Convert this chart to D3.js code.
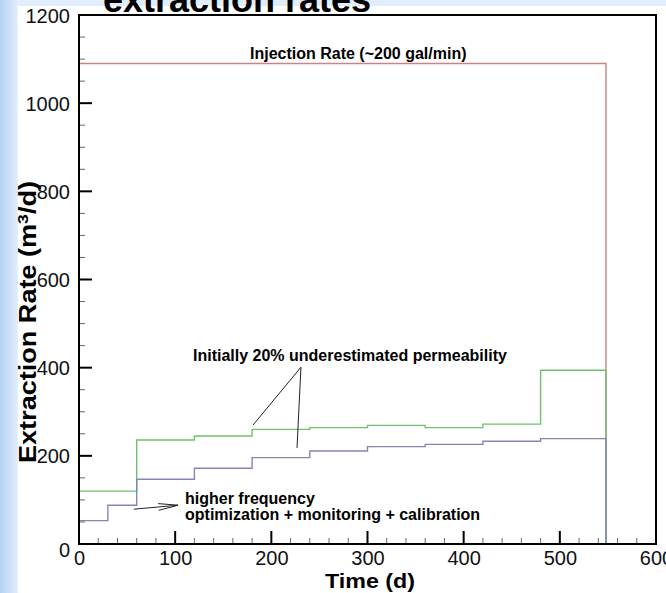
<!DOCTYPE html>
<html><head><meta charset="utf-8">
<script src="https://cdn.jsdelivr.net/npm/d3@7"></script>
<style>
html,body{margin:0;padding:0;background:#fff;}
svg{display:block;}
text{font-family:"Liberation Sans",Arial,sans-serif;}
</style></head>
<body>
<svg id="chart" width="666" height="593"></svg>
<script>
// ---- data ----
const endTime = 548;
const injectionTimes = [0];
const injectionValues = [1090];
const underestTimes = [0, 60, 120, 180, 240, 300, 360, 420, 480];
const underestValues = [120, 236, 245, 260, 264, 269, 264, 272, 394];
const hiFreqTimes = [0, 30, 60, 120, 180, 240, 300, 360, 420, 480];
const hiFreqValues = [53, 88, 147, 172, 196, 211, 221, 226, 233, 239];
const xTicks = [0, 100, 200, 300, 400, 500, 600];
const yTicks = [0, 200, 400, 600, 800, 1000, 1200];

(function(){
const svg = d3.select("#chart");
const W = 666, H = 593;
const pL = 79, pR = 656, pT = 15, pB = 544;

// background
const defs = svg.append("defs");
const g1 = defs.append("linearGradient").attr("id","lg").attr("x1","0").attr("x2","1").attr("y1","0").attr("y2","0");
g1.append("stop").attr("offset","0%").attr("stop-color","#b4d1f4");
g1.append("stop").attr("offset","100%").attr("stop-color","#e4eefb");
svg.append("rect").attr("width",W).attr("height",H).attr("fill","#e2edfb");
svg.append("rect").attr("x",0).attr("y",0).attr("width",18).attr("height",H).attr("fill","url(#lg)");
svg.append("rect").attr("x",18).attr("y",6).attr("width",W-18).attr("height",H-6).attr("fill","#ffffff");

const x = d3.scaleLinear().domain([0,600]).range([pL,pR]);
const y = d3.scaleLinear().domain([0,1200]).range([pB,pT]);

// series
function stepPts(ts, vs){
  const pts = ts.map((t,i)=>[t, vs[i]]);
  pts.push([endTime, 0]);
  return pts;
}
const line = d3.line().x(d=>x(d[0])).y(d=>y(d[1])).curve(d3.curveStepAfter);
const series = [
  {pts: stepPts(injectionTimes, injectionValues), color:"#c98585"},
  {pts: stepPts(underestTimes, underestValues), color:"#6fc16f"},
  {pts: stepPts(hiFreqTimes, hiFreqValues), color:"#8585b8"}
];
svg.selectAll("path.s").data(series).enter().append("path")
  .attr("class","s").attr("d",d=>line(d.pts)).attr("fill","none")
  .attr("stroke",d=>d.color).attr("stroke-width",1.4);

// axes
const fmt = d3.format("d");
const xAxis = d3.axisBottom(x).tickValues(xTicks).tickFormat(fmt).tickSize(0).tickPadding(0);
const gx = svg.append("g").attr("transform",`translate(0,${pB})`).call(xAxis);
gx.select(".domain").remove();
gx.selectAll("text").attr("font-size",20).attr("fill","#111").attr("dy",null).attr("y",21);

const yAxis = d3.axisLeft(y).tickValues(yTicks).tickFormat(fmt).tickSize(0).tickPadding(0);
const gy = svg.append("g").attr("transform",`translate(${pL},0)`).call(yAxis);
gy.select(".domain").remove();
gy.selectAll("text").attr("font-size",20).attr("fill","#111").attr("x",-9)
  .attr("dy",d=> d===0 ? "0.62em" : "0.35em");

// minor + major ticks (inside)
const xMinor = d3.range(0,601,20).filter(v=>v%100!==0);
const yMinor = d3.range(0,1201,50).filter(v=>v%200!==0);
svg.append("g").selectAll("line").data(xMinor).enter().append("line")
  .attr("x1",d=>x(d)).attr("x2",d=>x(d)).attr("y1",pB).attr("y2",pB-6)
  .attr("stroke","#666").attr("stroke-width",1);
svg.append("g").selectAll("line").data(yMinor).enter().append("line")
  .attr("y1",d=>y(d)).attr("y2",d=>y(d)).attr("x1",pL).attr("x2",pL+6)
  .attr("stroke","#666").attr("stroke-width",1);
svg.append("g").selectAll("line").data(xTicks).enter().append("line")
  .attr("x1",d=>x(d)).attr("x2",d=>x(d)).attr("y1",pB).attr("y2",pB-13)
  .attr("stroke","#000").attr("stroke-width",2);
svg.append("g").selectAll("line").data(yTicks).enter().append("line")
  .attr("y1",d=>y(d)).attr("y2",d=>y(d)).attr("x1",pL).attr("x2",pL+13)
  .attr("stroke","#000").attr("stroke-width",2);

// frame
svg.append("rect").attr("x",pL).attr("y",pT).attr("width",pR-pL).attr("height",pB-pT)
  .attr("fill","none").attr("stroke","#000").attr("stroke-width",2);

// axis titles
svg.append("text").attr("x",370).attr("y",588).attr("text-anchor","middle")
  .attr("font-size",21).attr("font-weight","bold")
  .attr("textLength",90).attr("lengthAdjust","spacingAndGlyphs").text("Time (d)");
const yl = svg.append("text").attr("transform","translate(36,322) rotate(-90)")
  .attr("text-anchor","middle").attr("font-size",23).attr("font-weight","bold")
  .attr("textLength",282).attr("lengthAdjust","spacingAndGlyphs");
yl.append("tspan").text("Extraction Rate (m");
yl.append("tspan").attr("font-size",15).attr("baseline-shift","super").text("3");
yl.append("tspan").text("/d)");

// title (cut off at top)
svg.append("text").attr("x",103).attr("y",12).attr("font-size",36).attr("font-weight","bold")
  .attr("fill","#000").text("extraction rates");

// annotations
svg.append("text").attr("x",250).attr("y",59).attr("font-size",16).attr("font-weight","bold")
  .text("Injection Rate (~200 gal/min)");
svg.append("text").attr("x",193).attr("y",361).attr("font-size",16).attr("font-weight","bold")
  .text("Initially 20% underestimated permeability");
svg.append("text").attr("x",185).attr("y",504).attr("font-size",16).attr("font-weight","bold")
  .text("higher frequency");
svg.append("text").attr("x",185).attr("y",520).attr("font-size",16).attr("font-weight","bold")
  .text("optimization + monitoring + calibration");

const pointerFrom = [230.8, 401];
const pointerTo = [[181, 270], [226.7, 218]];
svg.append("g").selectAll("line").data(pointerTo).enter().append("line")
  .attr("x1",x(pointerFrom[0])).attr("y1",y(pointerFrom[1]))
  .attr("x2",d=>x(d[0])).attr("y2",d=>y(d[1]))
  .attr("stroke","#222").attr("stroke-width",1);

const arrowFrom = [57, 79], arrowTo = [103, 88];
const ax1 = x(arrowFrom[0]), ay1 = y(arrowFrom[1]), ax2 = x(arrowTo[0]), ay2 = y(arrowTo[1]);
const ang = Math.atan2(ay2-ay1, ax2-ax1);
const hl = 20, hw = 0.17;
svg.append("line").attr("x1",ax1).attr("y1",ay1).attr("x2",ax2).attr("y2",ay2)
  .attr("stroke","#222").attr("stroke-width",1);
svg.append("path").attr("fill","none").attr("stroke","#222").attr("stroke-width",1)
  .attr("d",`M${ax2-hl*Math.cos(ang-hw)},${ay2-hl*Math.sin(ang-hw)}L${ax2},${ay2}L${ax2-hl*Math.cos(ang+hw)},${ay2-hl*Math.sin(ang+hw)}`);
})();
</script>
</body></html>
